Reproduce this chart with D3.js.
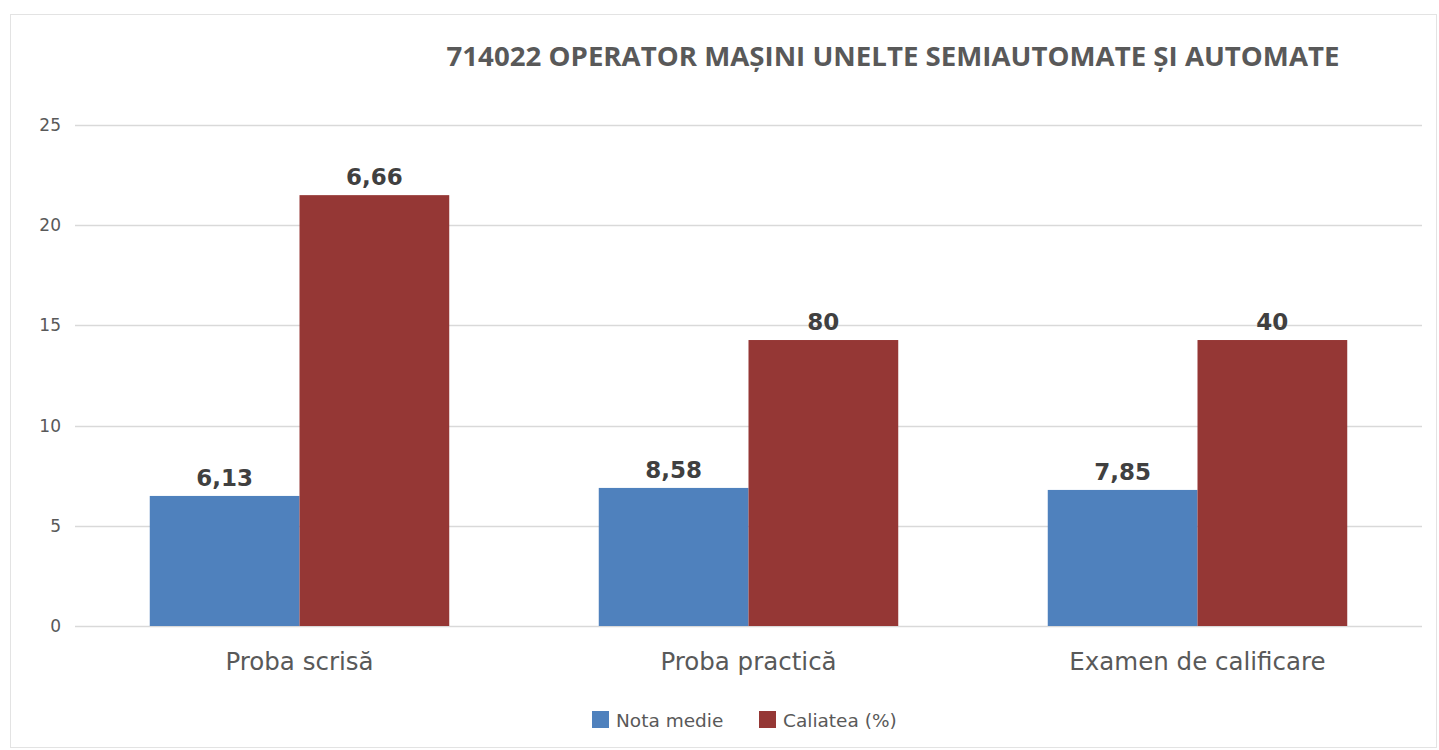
<!DOCTYPE html>
<html><head><meta charset="utf-8">
<script src="https://cdn.jsdelivr.net/npm/d3@7"></script>
<style>body{margin:0;background:#fff;}text{font-family:"DejaVu Sans",sans-serif;}</style>
</head><body>
<svg id="c" width="1439" height="750"></svg>
<script>
const title = "714022 OPERATOR MAȘINI UNELTE SEMIAUTOMATE ȘI AUTOMATE";
const categories = ["Proba scrisă", "Proba practică", "Examen de calificare"];
const seriesNames = ["Nota medie", "Caliatea (%)"];
const notaMedie = [6.49, 6.89, 6.79];
const calitatea = [21.5, 14.27, 14.27];
const notaLabels = ["6,13", "8,58", "7,85"];
const calitateaLabels = ["6,66", "80", "40"];
const yTicks = [0, 5, 10, 15, 20, 25];
const colors = ["#4f81bd", "#953735"];

const svg = d3.select("#c");
const m = {left: 75, right: 1422, top: 125, bottom: 626};

svg.append("rect").attr("x", 10.5).attr("y", 14.5).attr("width", 1426).attr("height", 733)
  .attr("fill", "#fff").attr("stroke", "#e3e3e3").attr("stroke-width", 1);

const x0 = d3.scaleBand().domain(categories).range([m.left, m.right])
  .paddingInner(0.333).paddingOuter(0.1665);
const x1 = d3.scaleBand().domain(seriesNames).range([0, x0.bandwidth()]);
const y = d3.scaleLinear().domain([0, 25]).range([m.bottom, m.top]);

// gridlines
svg.append("g").selectAll("line").data(yTicks).join("line")
  .attr("x1", m.left).attr("x2", m.right)
  .attr("y1", d => Math.round(y(d)) + 0.5).attr("y2", d => Math.round(y(d)) + 0.5)
  .attr("stroke", "#d9d9d9").attr("stroke-width", 1.5);

// y axis labels
const yAxis = d3.axisLeft(y).tickValues(yTicks).tickSize(0).tickPadding(0);
const ya = svg.append("g").attr("transform", `translate(61,0)`).call(yAxis);
ya.select(".domain").remove();
ya.selectAll("text").attr("fill", "#595959").style("font-size", "17px")
  .style("font-family", "'DejaVu Sans',sans-serif");

const rows = categories.map((c, i) => ({c, vals: [
  {s: seriesNames[0], v: notaMedie[i], l: notaLabels[i]},
  {s: seriesNames[1], v: calitatea[i], l: calitateaLabels[i]}]}));

const g = svg.append("g").selectAll("g").data(rows).join("g")
  .attr("transform", d => `translate(${x0(d.c)},0)`);
g.selectAll("rect").data(d => d.vals).join("rect")
  .attr("x", d => x1(d.s)).attr("width", x1.bandwidth())
  .attr("y", d => y(d.v)).attr("height", d => y(0) - y(d.v))
  .attr("fill", (d, i) => colors[i]);
g.selectAll("text").data(d => d.vals).join("text")
  .attr("x", d => x1(d.s) + x1.bandwidth() / 2).attr("y", d => y(d.v) - 10)
  .attr("text-anchor", "middle").attr("fill", "#404040")
  .style("font-size", "23px").style("font-weight", "bold").text(d => d.l);

// x axis
const xAxis = d3.axisBottom(x0).tickSize(0).tickPadding(0);
const xa = svg.append("g").attr("transform", `translate(0,670)`).call(xAxis);
xa.select(".domain").remove();
xa.selectAll("text").attr("fill", "#595959").style("font-size", "24.5px")
  .style("font-family", "'DejaVu Sans',sans-serif").attr("dy", "0");

// title
svg.append("text").attr("x", 893).attr("y", 66).attr("text-anchor", "middle")
  .attr("fill", "#595959").style("font-size", "27px").style("font-weight", "bold")
  .style("font-family", "'Open Sans',sans-serif")
  .attr("textLength", 893).attr("lengthAdjust", "spacingAndGlyphs").text(title);

// legend
const legX = [592, 759];
const lg = svg.append("g").selectAll("g").data(seriesNames).join("g")
  .attr("transform", (d, i) => `translate(${legX[i]},711)`);
lg.append("rect").attr("width", 17).attr("height", 17).attr("fill", (d, i) => colors[i]);
lg.append("text").attr("x", 24).attr("y", 16).attr("fill", "#595959")
  .style("font-size", "18.5px").text(d => d);
</script>
</body></html>
